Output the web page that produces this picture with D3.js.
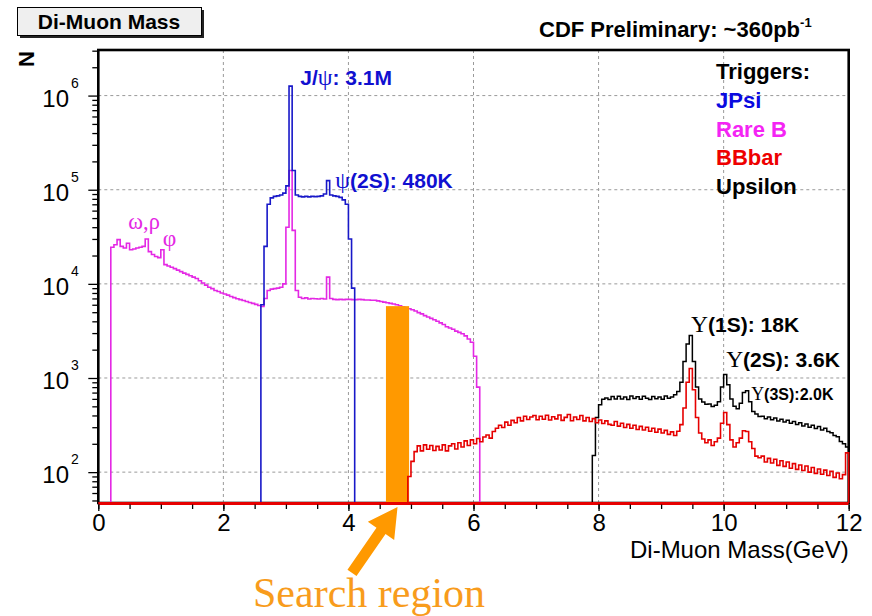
<!DOCTYPE html>
<html lang="en">
<head>
<meta charset="utf-8">
<title>Di-Muon Mass</title>
<script src="https://d3js.org/d3.v7.min.js"></script>
<style>
  body { margin: 0; background: #fff; }
  svg { display: block; font-family: "Liberation Sans", Arial, sans-serif; }
</style>
</head>
<body>
<svg id="chart" width="872" height="616"></svg>
<script>
// axis ranges
var massRange = [0, 12];          // GeV
var countRange = [47, 3.05e6];    // N, log scale
var xMajorTicks = [0, 2, 4, 6, 8, 10, 12];
var yDecades = [2, 3, 4, 5, 6];

// all histograms use the same bin width (GeV)
var binWidth = 0.05;

// Rare B trigger, first bin low edge 0.20 GeV
var rareBStart = 0.20;
var rareB = [
  24500, 26000, 29500, 25000, 24000, 27000, 23000, 23500, 24000, 24500,   // 0.20
  25000, 30000, 22000, 20500, 19500, 19000, 23000, 16000, 15500, 15000,   // 0.70
  14500, 14000, 13500, 13000, 12600, 12200, 11800, 11400, 10800, 10200,   // 1.20
  9700, 9200, 8900, 8500, 8300, 8000, 7800, 7600, 7350, 7150,             // 1.70
  6950, 6800, 6650, 6500, 6350, 6200, 6050, 5900, 5750, 7000,             // 2.20
  8500, 8800, 8900, 9000, 9200, 10000, 40000, 160000, 37000, 8500,        // 2.70
  7200, 7000, 7100, 6900, 7000, 6950, 6900, 7000, 6900, 11800,            // 3.20
  7000, 6850, 6800, 6850, 6800, 6850, 6850, 6800, 6800, 6850,             // 3.70
  6800, 6750, 6750, 6700, 6700, 6600, 6500, 6400, 6300, 6200,             // 4.20
  6100, 6000, 5850, 5700, 5550, 5450, 5300, 5150, 4950, 4800,             // 4.70
  4600, 4450, 4300, 4150, 4000, 3850, 3700, 3500, 3400, 3300,             // 5.20
  3150, 3050, 2950, 2800, 2600, 2400, 1700, 800                           // 5.70
];

// JPsi trigger
var jpsiStart = 2.60;
var jpsi = [
  6000, 25000, 70000, 82000, 85000, 86000, 88000, 92000, 110000, 1260000, // 2.60
  160000, 88000, 85000, 84000, 85000, 84000, 85000, 84500, 85000, 86000,  // 3.10
  90000, 125000, 88000, 86000, 85000, 83000, 78000, 70000, 30000, 9000    // 3.60
];

// Upsilon trigger
var upsilonStart = 7.90;
var upsilon = [
  150, 380, 520, 595, 612, 590, 635, 598, 640, 600,      // 7.90
  628, 592, 645, 605, 632, 596, 640, 610, 590, 636,      // 8.40
  602, 630, 596, 642, 608, 630, 662, 720, 900, 1500,     // 8.90
  2300, 2830, 1500, 800, 600, 555, 525, 530, 498, 515,   // 9.40
  560, 800, 1090, 850, 600, 500, 470, 540, 700, 730,     // 9.90
  560, 440, 415, 390, 392, 370, 385, 360, 375, 350,      // 10.40
  365, 340, 355, 330, 345, 320, 335, 310, 325, 300,      // 10.90
  315, 290, 305, 280, 292, 270, 262, 245, 238, 212,      // 11.40
  200, 185                                               // 11.90
];

// BBbar trigger
var bbbarStart = 4.95;
var bbbar = [
  90, 130, 165, 190, 168, 195, 175, 192, 170, 188,       // 4.95
  172, 195, 168, 190, 200, 176, 205, 185, 215, 192,      // 5.45
  220, 200, 228, 210, 236, 248, 230, 270, 292, 315,      // 5.95
  298, 340, 315, 355, 335, 380, 350, 392, 362, 385,      // 6.45
  400, 360, 392, 365, 402, 358, 388, 368, 405, 355,      // 6.95
  382, 410, 352, 385, 362, 400, 350, 380, 345, 370,      // 7.45
  335, 358, 328, 350, 322, 315, 345, 308, 330, 298,      // 7.95
  322, 292, 315, 284, 306, 280, 300, 272, 292, 265,      // 8.45
  286, 260, 278, 252, 268, 245, 272, 320, 480, 900,      // 8.95
  1260, 750, 380, 260, 225, 205, 220, 192, 210, 230,     // 9.45
  330, 430, 320, 220, 185, 205, 230, 275, 270, 210,      // 9.95
  178, 148, 142, 148, 128, 140, 125, 137, 118, 132,      // 10.45
  115, 128, 110, 123, 107, 119, 104, 116, 100, 112,      // 10.95
  97, 108, 95, 105, 92, 102, 88, 98, 85, 94,             // 11.45
  160                                                    // 11.95
];

// search window (GeV) and the count the marker box reaches
var searchRegion = [4.6, 4.97];
var searchTop = 5800;

var triggerNames = ['JPsi', 'Rare B', 'BBbar', 'Upsilon'];
var triggerColors = ['#1818c8', '#e428e4', '#e60000', '#000000'];
var legendColors = ['#0a0ae0', '#f424f4', '#ee0000', '#000000'];

var svg = d3.select('#chart');
var plotL = 98.3, plotR = 848.7, plotT = 50, plotB = 503;

var x = d3.scaleLinear().domain(massRange).range([plotL, plotR]);
var y = d3.scaleLog().domain(countRange).range([plotB, plotT]);
function yc(c) { return y(Math.max(c, countRange[0])); }

//Grid
var grid = svg.append('g')
    .attr('stroke', '#9a9a9a')
    .attr('stroke-width', 1)
    .attr('stroke-dasharray', '3,3');
grid.selectAll('.gx')
    .data(xMajorTicks.slice(1, -1))
    .enter().append('line')
    .attr('x1', function(d) { return x(d); })
    .attr('x2', function(d) { return x(d); })
    .attr('y1', plotT).attr('y2', plotB);
grid.selectAll('.gy')
    .data(yDecades)
    .enter().append('line')
    .attr('x1', plotL).attr('x2', plotR)
    .attr('y1', function(d) { return y(Math.pow(10, d)); })
    .attr('y2', function(d) { return y(Math.pow(10, d)); });

//Frame
svg.append('rect')
    .attr('x', plotL).attr('y', plotT)
    .attr('width', plotR - plotL).attr('height', plotB - plotT)
    .attr('fill', 'none')
    .attr('stroke', '#000')
    .attr('stroke-width', 2.6);

//Histograms as step lines
function histPoints(start, counts) {
    var pts = [[start, 0]];
    counts.forEach(function(c, i) { pts.push([start + i * binWidth, c]); });
    pts.push([start + counts.length * binWidth, 0]);
    return pts;
}
var stepLine = d3.line()
    .x(function(d) { return x(d[0]); })
    .y(function(d) { return yc(d[1]); })
    .curve(d3.curveStepAfter);

function drawHist(start, counts, color, width) {
    svg.append('path')
        .datum(histPoints(start, counts))
        .attr('d', stepLine)
        .attr('fill', 'none')
        .attr('stroke', color)
        .attr('stroke-width', width)
        .attr('stroke-linejoin', 'miter');
}
drawHist(rareBStart, rareB, triggerColors[1], 1.6);
drawHist(jpsiStart, jpsi, triggerColors[0], 1.6);
drawHist(upsilonStart, upsilon, triggerColors[3], 1.5);

//Search region box
svg.append('rect')
    .attr('x', x(searchRegion[0]))
    .attr('y', y(searchTop))
    .attr('width', x(searchRegion[1]) - x(searchRegion[0]))
    .attr('height', plotB - y(searchTop))
    .attr('fill', '#ff9900');

drawHist(bbbarStart, bbbar, triggerColors[2], 1.6);
// the empty bins run along the bottom edge in red
svg.append('line')
    .attr('x1', plotL).attr('x2', plotR)
    .attr('y1', plotB + 0.5).attr('y2', plotB + 0.5)
    .attr('stroke', triggerColors[2])
    .attr('stroke-width', 3);

//X axis
var xMinor = d3.range(0, 12.01, 0.5);
svg.append('g')
    .attr('transform', 'translate(0,' + (plotB + 1.5) + ')')
    .call(d3.axisBottom(x).tickValues(xMinor).tickSize(4.5).tickFormat(''))
    .call(function(g) { g.select('.domain').remove(); })
    .selectAll('line').attr('stroke-width', 1.3);
var xAxis = svg.append('g')
    .attr('transform', 'translate(0,' + (plotB + 1.5) + ')')
    .call(d3.axisBottom(x).tickValues(xMajorTicks).tickSize(6.5).tickPadding(3).tickFormat(d3.format('d')));
xAxis.select('.domain').remove();
xAxis.selectAll('line').attr('stroke-width', 1.3);
xAxis.selectAll('text')
    .attr('font-size', 24)
    .attr('font-family', '"Liberation Sans", Arial, sans-serif')
    .attr('fill', '#000');

//Y axis
var yMinor = [];
d3.range(1, 7).forEach(function(e) {
    d3.range(2, 10).forEach(function(k) {
        var v = k * Math.pow(10, e);
        if (v >= countRange[0] && v <= countRange[1]) yMinor.push(v);
    });
});
svg.append('g')
    .attr('transform', 'translate(' + plotL + ',0)')
    .call(d3.axisLeft(y).tickValues(yMinor).tickSize(6).tickFormat(''))
    .call(function(g) { g.select('.domain').remove(); })
    .selectAll('line').attr('stroke-width', 1.3);
svg.append('g')
    .attr('transform', 'translate(' + plotL + ',0)')
    .call(d3.axisLeft(y).tickValues(yDecades.map(function(d) { return Math.pow(10, d); })).tickSize(10).tickFormat(''))
    .call(function(g) { g.select('.domain').remove(); })
    .selectAll('line').attr('stroke-width', 1.3);

var yLab = svg.append('g').selectAll('g')
    .data(yDecades)
    .enter().append('g')
    .attr('transform', function(d) { return 'translate(0,' + y(Math.pow(10, d)) + ')'; });
yLab.append('text')
    .attr('x', 69).attr('y', 11)
    .attr('text-anchor', 'end')
    .attr('font-size', 24)
    .text('10');
yLab.append('text')
    .attr('x', 71).attr('y', -8)
    .attr('font-size', 14)
    .text(function(d) { return d; });

svg.append('text')
    .attr('transform', 'translate(34,67) rotate(-90)')
    .attr('font-size', 22)
    .attr('font-weight', 'bold')
    .text('N');

svg.append('text')
    .attr('x', plotR).attr('y', 558)
    .attr('text-anchor', 'end')
    .attr('font-size', 24)
    .text('Di-Muon Mass(GeV)');

//Title box
svg.append('rect')
    .attr('x', 20).attr('y', 10).attr('width', 184).attr('height', 28)
    .attr('fill', '#222');
svg.append('rect')
    .attr('x', 17.5).attr('y', 7.5).attr('width', 184).attr('height', 28)
    .attr('fill', '#efefef').attr('stroke', '#000').attr('stroke-width', 1);
svg.append('text')
    .attr('x', 109).attr('y', 29)
    .attr('text-anchor', 'middle')
    .attr('font-size', 21)
    .attr('font-weight', 'bold')
    .text('Di-Muon Mass');

var cdf = svg.append('text')
    .attr('x', 539).attr('y', 37)
    .attr('font-size', 22)
    .attr('font-weight', 'bold');
cdf.append('tspan').text('CDF Preliminary: ~360pb');
cdf.append('tspan').attr('font-size', 13).attr('dy', -10).text('-1');

//Legend
var legend = svg.append('g')
    .attr('font-size', 22)
    .attr('font-weight', 'bold');
legend.append('text').attr('x', 716).attr('y', 79).text('Triggers:');
legend.selectAll('.lg')
    .data(triggerNames)
    .enter().append('text')
    .attr('x', 716)
    .attr('y', function(d, i) { return 108 + i * 28.5; })
    .attr('fill', function(d, i) { return legendColors[i]; })
    .text(function(d) { return d; });

//Peak labels, anchored in data space; greek letters in a serif face
function peakLabel(mass, count, parts, size, color, bold) {
    var t = svg.append('text')
        .attr('x', x(mass)).attr('y', y(count))
        .attr('font-size', size)
        .attr('font-weight', bold ? 'bold' : 'normal')
        .attr('fill', color);
    parts.forEach(function(p) {
        var s = t.append('tspan').text(p[0]);
        if (p[1]) s.attr('font-family', '"Liberation Serif", "DejaVu Serif", serif').attr('font-weight', 'normal').attr('font-size', size * 1.12);
    });
}
peakLabel(3.23, 1.29e6, [['J/', 0], ['\u03c8', 1], [': 3.1M', 0]], 21, '#1010d0', true);
peakLabel(3.79, 1.04e5, [['\u03c8', 1], ['(2S): 480K', 0]], 21, '#1010d0', true);
peakLabel(0.48, 3.83e4, [['\u03c9,\u03c1', 1]], 20, '#e428e4', false);
peakLabel(1.03, 2.52e4, [['\u03c6', 1]], 21, '#e428e4', false);
peakLabel(9.48, 3080, [['\u03a5', 1], ['(1S): 18K', 0]], 21, '#000', true);
peakLabel(10.04, 1308, [['\u03a5', 1], ['(2S): 3.6K', 0]], 21, '#000', true);
peakLabel(10.44, 584, [['\u03a5', 1], ['(3S):2.0K', 0]], 16, '#000', true);

//Arrow pointing at the search region
var tip = [x((searchRegion[0] + searchRegion[1]) / 2), plotB + 4];
var ang = Math.atan2(-65, 45);
var u = [Math.cos(ang), Math.sin(ang)], n = [-u[1], u[0]];
function pt(along, across) {
    return [tip[0] - along * u[0] + across * n[0], tip[1] - along * u[1] + across * n[1]];
}
svg.append('polygon')
    .attr('points', [pt(0, 0), pt(29, 16), pt(29, 5.5), pt(80, 5.5), pt(80, -5.5), pt(29, -5.5), pt(29, -16)]
        .map(function(p) { return p.join(','); }).join(' '))
    .attr('fill', '#ff9900');

svg.append('text')
    .attr('x', 253).attr('y', 607)
    .attr('font-family', '"Liberation Serif", "Times New Roman", serif')
    .attr('font-size', 42)
    .attr('fill', '#f89c1c')
    .text('Search region');
</script>
</body>
</html>
